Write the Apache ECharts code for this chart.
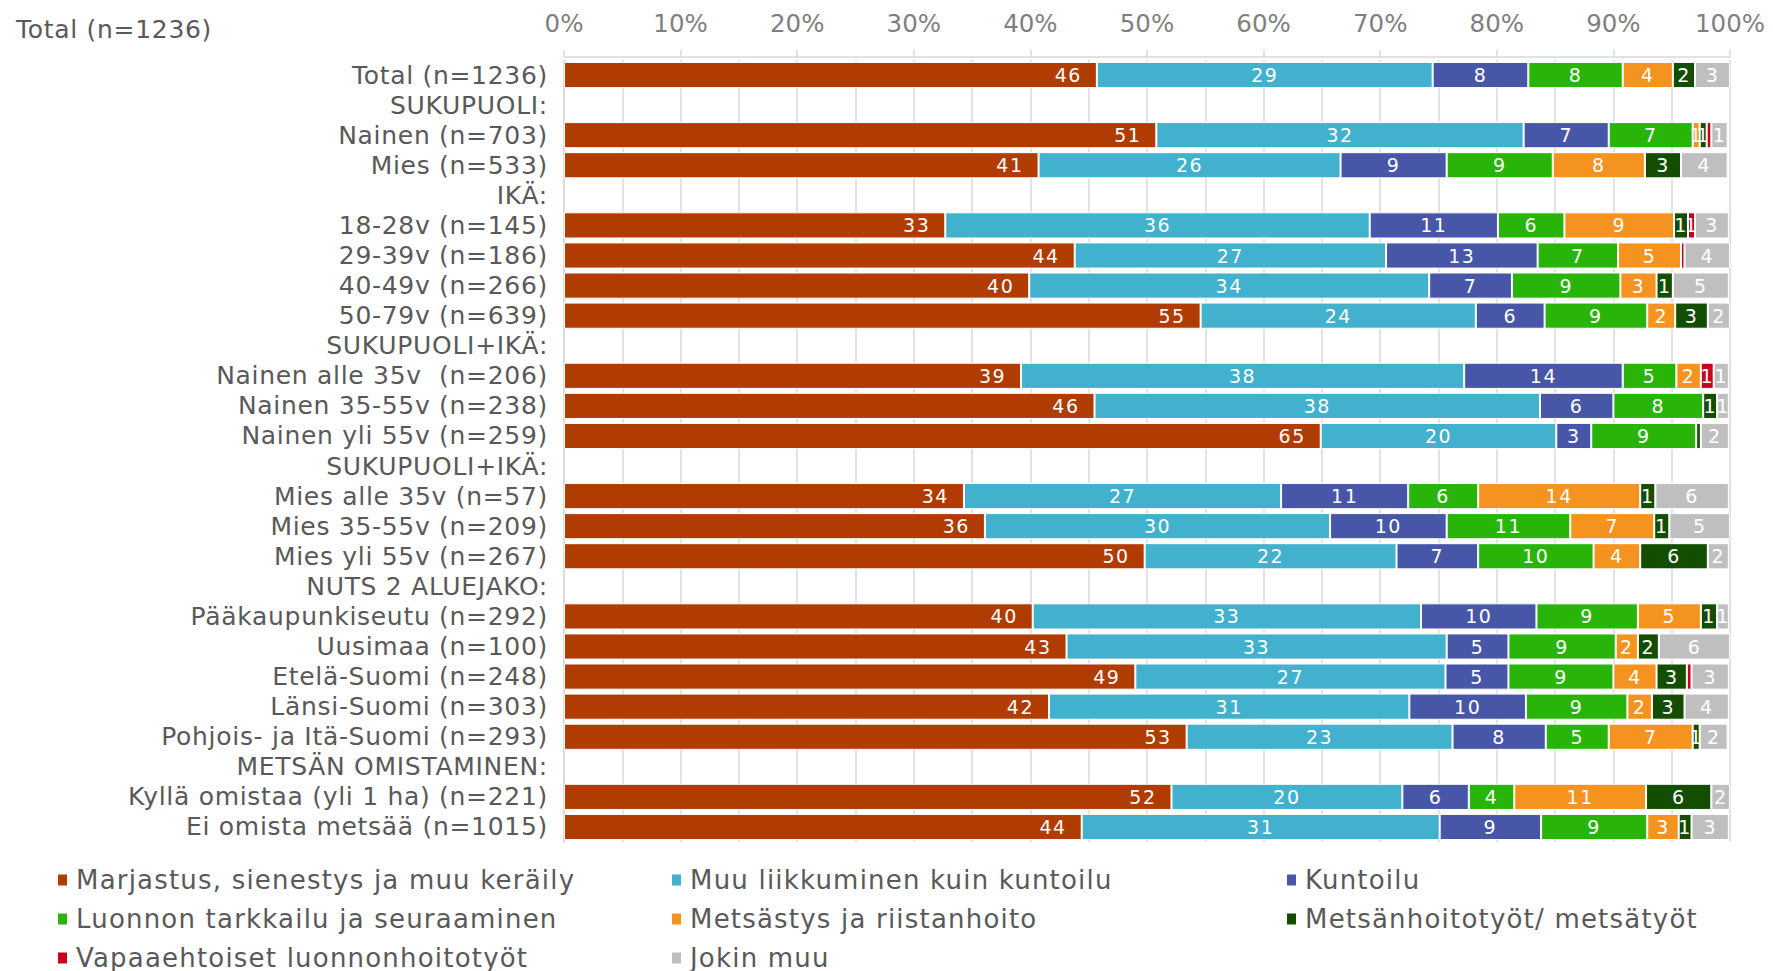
<!DOCTYPE html>
<html><head><meta charset="utf-8">
<script src="https://cdn.jsdelivr.net/npm/echarts@6/dist/echarts.min.js"></script>
<style>
html,body{margin:0;padding:0;background:#fff;}
#c{width:1773px;height:971px;}
#c text{letter-spacing:0;}
#c text[style*="19px"]{letter-spacing:1.5px;}
#c text[style*=" 25px"], #c text[style*=":25px"]{letter-spacing:0.7px;}
#c text[style*="26px"]{letter-spacing:1.2px;}
</style></head><body><div id="c"></div>
<script>
const categories = ['Total (n=1236)', 'SUKUPUOLI:', 'Nainen (n=703)', 'Mies (n=533)', 'IKÄ:', '18-28v (n=145)', '29-39v (n=186)', '40-49v (n=266)', '50-79v (n=639)', 'SUKUPUOLI+IKÄ:', 'Nainen alle 35v  (n=206)', 'Nainen 35-55v (n=238)', 'Nainen yli 55v (n=259)', 'SUKUPUOLI+IKÄ:', 'Mies alle 35v (n=57)', 'Mies 35-55v (n=209)', 'Mies yli 55v (n=267)', 'NUTS 2 ALUEJAKO:', 'Pääkaupunkiseutu (n=292)', 'Uusimaa (n=100)', 'Etelä-Suomi (n=248)', 'Länsi-Suomi (n=303)', 'Pohjois- ja Itä-Suomi (n=293)', 'METSÄN OMISTAMINEN:', 'Kyllä omistaa (yli 1 ha) (n=221)', 'Ei omista metsää (n=1015)'];

const seriesNames = ['Marjastus, sienestys ja muu keräily', 'Muu liikkuminen kuin kuntoilu', 'Kuntoilu', 'Luonnon tarkkailu ja seuraaminen', 'Metsästys ja riistanhoito', 'Metsänhoitotyöt/ metsätyöt', 'Vapaaehtoiset luonnonhoitotyöt', 'Jokin muu'];

const marjastus = [45.7, null, 50.8, 40.7, null, 32.7, 43.8, 39.9, 54.6, null, 39.2, 45.5, 64.9, null, 34.3, 36.1, 49.8, null, 40.2, 43.1, 49.0, 41.6, 53.4, null, 52.1, 44.4];
const muuLiikkuminen = [28.8, null, 31.5, 25.9, null, 36.4, 26.7, 34.3, 23.6, null, 38.0, 38.2, 20.2, null, 27.2, 29.6, 21.6, null, 33.3, 32.6, 26.6, 30.9, 22.8, null, 19.8, 30.7];
const kuntoilu = [8.2, null, 7.3, 9.1, null, 11.0, 13.0, 7.1, 5.9, null, 13.6, 6.3, 3.0, null, 10.9, 10.0, 7.0, null, 9.9, 5.3, 5.4, 10.0, 8.0, null, 5.7, 8.7];
const luonnon = [8.1, null, 7.2, 9.1, null, 5.7, 6.9, 9.3, 8.8, null, 4.6, 7.7, 9.0, null, 6.0, 10.6, 9.9, null, 8.7, 9.2, 9.0, 8.7, 5.4, null, 3.9, 9.1];
const metsastys = [4.3, null, 0.6, 7.9, null, 9.4, 5.4, 3.1, 2.4, null, 2.1, 0, 0, null, 13.9, 7.2, 4.0, null, 5.4, 1.9, 3.7, 2.1, 7.2, null, 11.3, 2.7];
const metsanhoito = [1.9, null, 0.6, 3.1, null, 1.2, 0, 1.4, 2.8, null, 0, 1.2, 0.4, null, 1.3, 1.3, 5.8, null, 1.4, 1.8, 2.6, 2.8, 0.6, null, 5.6, 1.1];
const vapaaehtoiset = [0, null, 0.4, 0, null, 0.6, 0.3, 0, 0, null, 1.1, 0, 0, null, 0, 0, 0, null, 0, 0, 0.4, 0, 0, null, 0, 0];
const jokinMuu = [3.0, null, 1.4, 4.0, null, 2.9, 3.9, 4.8, 1.9, null, 1.3, 1.0, 2.4, null, 6.3, 5.2, 1.8, null, 1.0, 6.1, 3.2, 3.8, 2.4, null, 1.6, 3.2];

const tickLabels = ['0%', '10%', '20%', '30%', '40%', '50%', '60%', '70%', '80%', '90%', '100%'];
const colors = ['#B03C02', '#41B1CD', '#4856A7', '#29B409', '#F59321', '#134E00', '#C8001E', '#BFBFBF'];
const values = [marjastus, muuLiikkuminen, kuntoilu, luonnon, metsastys, metsanhoito, vapaaehtoiset, jokinMuu];

const FONT = 'DejaVu Sans';
const chart = echarts.init(document.getElementById('c'), null, {renderer: 'svg'});

const series = seriesNames.map((name, i) => ({
  name: name,
  type: 'bar',
  stack: 'total',
  barCategoryGap: '13%',
  data: values[i],
  itemStyle: {color: colors[i], borderColor: '#ffffff', borderWidth: 1},
  label: {
    show: true,
    position: i === 0 ? 'insideRight' : 'inside',
    distance: 15,
    color: '#ffffff',
    fontSize: 19,
    fontFamily: FONT,
    formatter: p => { const v = Math.round(p.value || 0); return v > 0 ? String(v) : ''; }
  },
  emphasis: {disabled: true},
  animation: false
}));

const legendBase = {
  orient: 'vertical', top: 867, height: 140, padding: 0, itemGap: 13, itemWidth: 11, itemHeight: 13,
  icon: 'rect', selectedMode: false,
  textStyle: {fontSize: 26, color: '#595959', fontFamily: FONT, padding: [0, 0, 0, 3]}
};

chart.setOption({
  animation: false,
  color: colors,
  textStyle: {fontFamily: FONT},
  title: {
    text: 'Total (n=1236)', left: 11, top: 12,
    textStyle: {fontSize: 25, color: '#595959', fontWeight: 'normal', fontFamily: FONT}
  },
  legend: [
    Object.assign({}, legendBase, {left: 56, data: [seriesNames[0], seriesNames[3], seriesNames[6]]}),
    Object.assign({}, legendBase, {left: 670, data: [seriesNames[1], seriesNames[4], seriesNames[7]]}),
    Object.assign({}, legendBase, {left: 1285, data: [seriesNames[2], seriesNames[5]]})
  ],
  grid: {left: 564, right: 43, top: 60, bottom: 129, containLabel: false},
  xAxis: {
    type: 'value', position: 'top', offset: 3, min: 0, max: 100, interval: 10,
    axisLabel: {formatter: v => tickLabels[Math.round(v / 10)], color: '#7f7f7f', fontSize: 24.5, margin: 21, fontFamily: FONT},
    axisLine: {show: true, lineStyle: {color: '#d9d9d9', width: 1.5}},
    axisTick: {show: true, length: 7, lineStyle: {color: '#d9d9d9', width: 1.5}},
    splitLine: {show: true, lineStyle: {color: '#d9d9d9', width: 1.5}},
    minorTick: {show: false, splitNumber: 2},
    minorSplitLine: {show: true, lineStyle: {color: '#d9d9d9', width: 1.5}}
  },
  yAxis: {
    type: 'category', inverse: true, data: categories,
    axisLine: {show: true, lineStyle: {color: '#d9d9d9', width: 1.5}},
    axisTick: {show: false},
    axisLabel: {color: '#595959', fontSize: 25, margin: 16, interval: 0, fontFamily: FONT}
  },
  series: series
});
</script></body></html>
